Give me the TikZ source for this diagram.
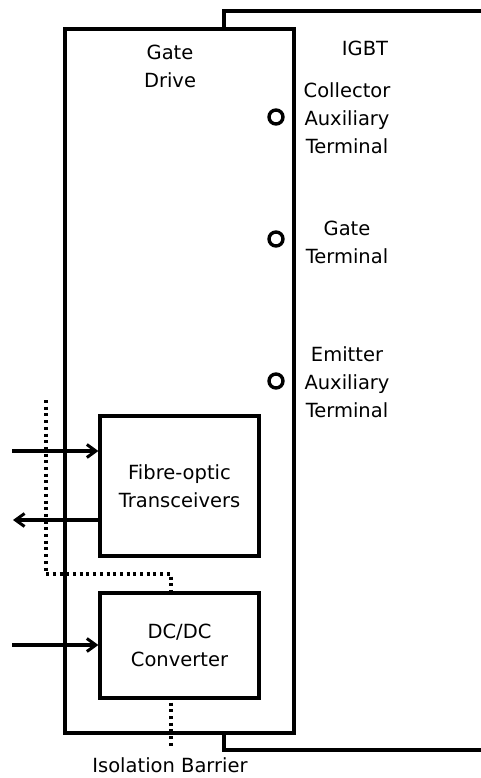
\documentclass[tikz,border=0pt]{standalone}
\usepackage{fontspec}
\setmainfont{DejaVu Sans}
\usetikzlibrary{arrows.meta}
\begin{document}
\begin{tikzpicture}[x=1pt,y=-1pt,
  thick line/.style={line width=3.2pt},
  box/.style={draw,line width=3.2pt,rectangle,inner sep=0pt},
  lbl/.style={font=\fontsize{19.5}{28}\selectfont,align=center,inner sep=0pt},
  term/.style={draw,circle,line width=3.4pt,minimum size=14pt,inner sep=0pt},
  arr/.style={line width=3.2pt,-{Straight Barb[length=9pt,width=13pt,line width=3pt]}},
  barrier/.style={line width=3.2pt,dash pattern=on 3pt off 3.7pt}]
\useasboundingbox (0,0) rectangle (480,778);
% IGBT outline
\draw[thick line] (484,11) -- (224,11) -- (224,29);
\draw[thick line] (224,733) -- (224,750) -- (484,750);
% Gate drive
\node[box,minimum width=229pt,minimum height=704pt] (gd) at (179.5,381) {};
\node[box,fill=white,minimum width=159pt,minimum height=140pt] (fo) at (179.5,486) {};
\node[box,fill=white,minimum width=159pt,minimum height=105pt] (dc) at (179.5,645.5) {};
\node[lbl] at (fo.center) {Fibre-optic\\Transceivers};
\node[lbl] at (dc.center) {DC/DC\\Converter};
\node[lbl] (gdl) at (170,66) {Gate\\Drive};
\node[lbl] (igbt) at (365,48) {IGBT};
\node[lbl] (cat) at (347,118) {Collector\\Auxiliary\\Terminal};
\node[lbl] (gt) at (347,242) {Gate\\Terminal};
\node[lbl] (eat) at (347,382) {Emitter\\Auxiliary\\Terminal};
\node[lbl] (iso) at (170,765) {Isolation Barrier};
% terminals
\node[term] (c1) at (276,117) {};
\node[term] (c2) at (276,239) {};
\node[term] (c3) at (276,381) {};
% arrows
\coordinate (in1) at (12,451);
\coordinate (out1) at (13,520);
\coordinate (in2) at (12,645);
\draw[arr] (in1) -- (in1 -| fo.west);
\draw[arr] (out1 -| fo.west) -- (out1);
\draw[arr] (in2) -- (in2 -| dc.west);
% isolation barrier
\coordinate (b1) at (46,400);
\coordinate (b2) at (46,574);
\coordinate (b3) at (171,574);
\coordinate (b4) at (171,747);
\draw[barrier] (b1) -- (b2) -- (b3) -- (b3 |- dc.north);
\draw[barrier] (b4 |- dc.south) ++(0,3) -- (b4);
\end{tikzpicture}
\end{document}
